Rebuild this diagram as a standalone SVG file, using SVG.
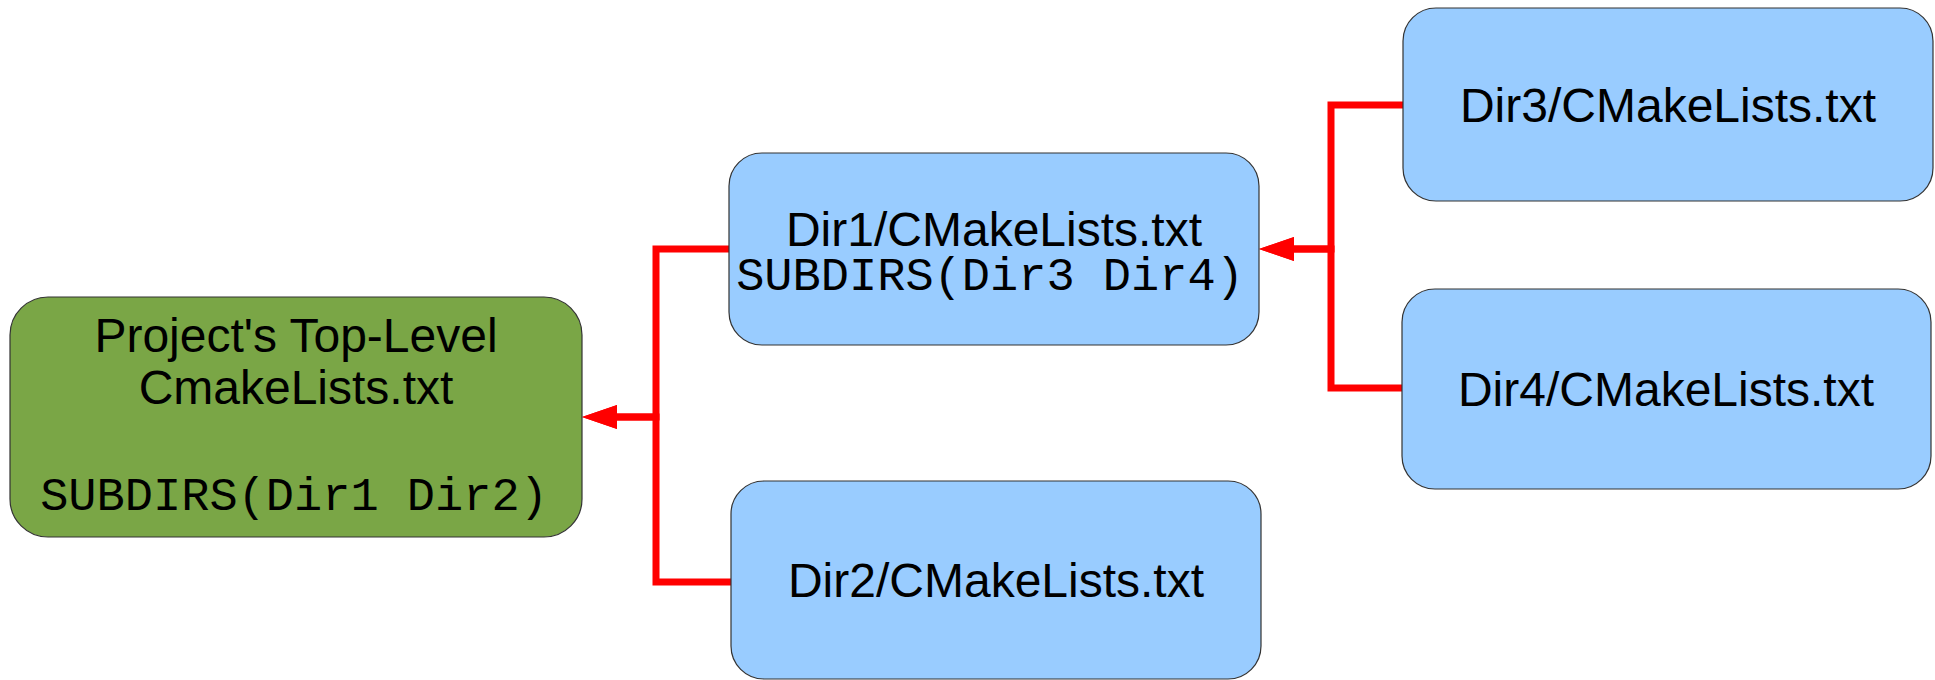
<svg xmlns="http://www.w3.org/2000/svg" width="1935" height="680" viewBox="0 0 1935 680">
<style>
.node{stroke:#333333;stroke-width:1.2}
.blue{fill:#99ccff}
.green{fill:#7aa646}
.t{font-family:"Liberation Sans",Arial,sans-serif;font-size:48px;fill:#000;text-anchor:middle}
.m{font-family:"Liberation Mono","Courier New",monospace;font-size:47px;fill:#000;text-anchor:middle}
.edge{fill:none;stroke:#ff0000;stroke-width:7;stroke-linejoin:miter}
</style>
<defs>
<marker id="arr" markerUnits="userSpaceOnUse" viewBox="0 0 35 24" refX="0" refY="12" markerWidth="35" markerHeight="24" orient="auto">
<path d="M0,0 L35,12 L0,24 z" fill="#ff0000"/>
</marker>
</defs>
<rect width="1935" height="680" fill="#ffffff"/>
<g id="connectors">
<path class="edge" d="M729 249 H656 V417 H617" marker-end="url(#arr)"/>
<path class="edge" d="M731 582 H656 V417 H617" marker-end="url(#arr)"/>
<path class="edge" d="M1403 105 H1331 V249 H1294" marker-end="url(#arr)"/>
<path class="edge" d="M1402 388 H1331 V249 H1294" marker-end="url(#arr)"/>
</g>
<g id="top">
<rect class="node green" x="10" y="297" width="572" height="240" rx="38" ry="38"/>
<text class="t" x="296" y="352">Project's Top-Level</text>
<text class="t" x="296" y="404">CmakeLists.txt</text>
<text class="m" x="294" y="510">SUBDIRS(Dir1 Dir2)</text>
</g>
<g id="dir1">
<rect class="node blue" x="729" y="153" width="530" height="192" rx="33" ry="33"/>
<text class="t" x="994" y="246">Dir1/CMakeLists.txt</text>
<text class="m" x="990" y="290">SUBDIRS(Dir3 Dir4)</text>
</g>
<g id="dir2">
<rect class="node blue" x="731" y="481" width="530" height="198" rx="33" ry="33"/>
<text class="t" x="996" y="597">Dir2/CMakeLists.txt</text>
</g>
<g id="dir3">
<rect class="node blue" x="1403" y="8" width="530" height="193" rx="33" ry="33"/>
<text class="t" x="1668" y="122">Dir3/CMakeLists.txt</text>
</g>
<g id="dir4">
<rect class="node blue" x="1402" y="289" width="529" height="200" rx="33" ry="33"/>
<text class="t" x="1666" y="406">Dir4/CMakeLists.txt</text>
</g>
</svg>
